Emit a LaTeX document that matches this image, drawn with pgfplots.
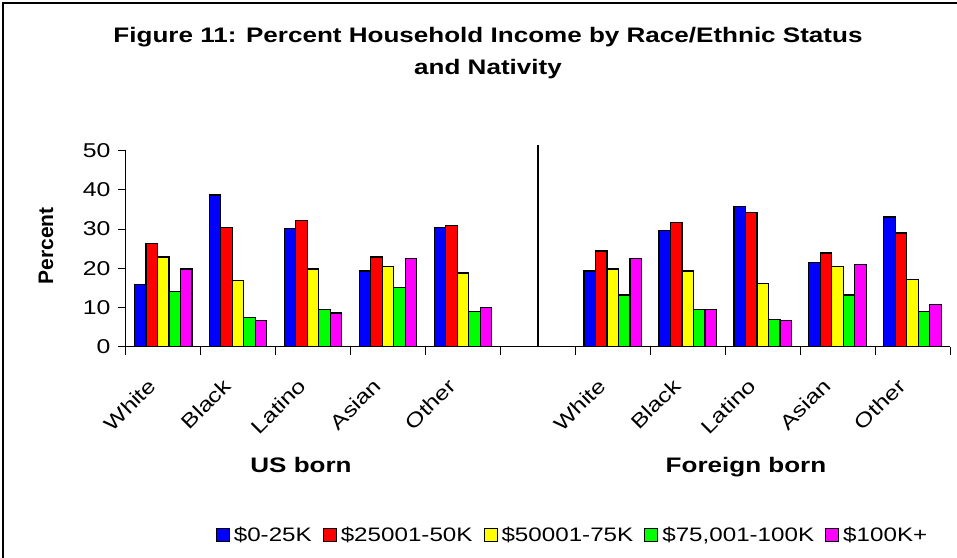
\documentclass[border=0pt]{standalone}
\usepackage{pgfplots}
\pgfplotsset{compat=1.18}
\usepackage{pgfplotstable}
\usepackage{fontspec}
\setmainfont{Liberation Sans}[FakeStretch=1.24]
\newfontfamily\plainsans{Liberation Sans}
\definecolor{cBlue}{RGB}{0,0,255}
\definecolor{cRed}{RGB}{255,0,0}
\definecolor{cYellow}{RGB}{255,255,0}
\definecolor{cGreen}{RGB}{0,255,0}
\definecolor{cMagenta}{RGB}{255,0,255}

% x: 0-4 US born, 6-10 Foreign born
\pgfplotstableread{
x  a    b    c    d    e
0  15.8 26.4 22.9 14.1 19.8
1  38.7 30.5 16.8 7.5  6.6
2  30.1 32.1 19.8 9.5  8.6
3  19.3 22.9 20.4 15.2 22.4
4  30.5 31.0 18.8 9.0  10.1
6  19.3 24.4 19.8 13.2 22.4
7  29.6 31.6 19.3 9.5  9.5
8  35.7 34.2 16.2 7.0  6.6
9  21.4 23.9 20.4 13.2 20.9
10 33.1 29.0 17.2 9.0  10.7
}\incomedata

\begin{document}
\begin{tikzpicture}
\useasboundingbox (0,0) rectangle (957bp,558bp);
\draw[line width=1.5bp] (3bp,0) -- (3bp,555bp) -- (957bp,555bp);
\node[anchor=base, font=\fontsize{21bp}{25bp}\selectfont\bfseries] at (488bp,515bp) {Figure 11: Percent Household Income by Race/Ethnic Status};
\node[anchor=base, font=\fontsize{21bp}{25bp}\selectfont\bfseries] at (488bp,483bp) {and Nativity};
\begin{axis}[
  at={(125.7bp,211.3bp)}, anchor=south west,
  scale only axis, width=824.3bp, height=196bp,
  xmin=-0.5, xmax=10.5, ymin=0, ymax=50,
  axis lines*=left, axis line style={-, line width=0.8bp},
  clip=false,
  ybar=0pt, bar width=11.5bp,
  tick align=outside, major tick length=8bp, minor tick length=8bp,
  ytick={0,10,20,30,40,50},
  xtick={0,1,2,3,4,6,7,8,9,10},
  xticklabels={White,Black,Latino,Asian,Other,White,Black,Latino,Asian,Other},
  minor xtick={-0.5,0.5,...,10.5},
  major x tick style={draw=none},
  minor x tick style={black, line width=0.8bp},
  y tick style={black, line width=0.8bp},
  /pgf/number format/assume math mode=true,
  yticklabel style={font=\fontsize{20bp}{24bp}\selectfont, inner sep=0pt, xshift=-7bp},
  xticklabel style={font=\fontsize{20bp}{24bp}\selectfont, rotate=45, anchor=east, inner sep=0pt, xshift=-27bp, yshift=-12bp},
  ylabel={Percent},
  ylabel style={at={(axis description cs:-0.0967,0.515)}, anchor=center, font=\plainsans\fontsize{21bp}{25bp}\selectfont\bfseries},
  legend columns=5,
  legend style={at={(axis description cs:0.5433,-0.959)}, anchor=center, draw=none,
    font=\fontsize{19.5bp}{23bp}\selectfont,
    nodes={inner xsep=4bp, inner ysep=2bp},
    /tikz/every even column/.append style={column sep=7bp}},
  legend image code/.code={\draw[#1, draw=black, line width=1bp] (0bp,-6.5bp) rectangle (13bp,6.5bp);},
  every axis plot/.append style={draw=black, line width=1.2bp},
]
\addplot[fill=cBlue] table[x=x, y=a] {\incomedata};
\addplot[fill=cRed] table[x=x, y=b] {\incomedata};
\addplot[fill=cYellow] table[x=x, y=c] {\incomedata};
\addplot[fill=cGreen] table[x=x, y=d] {\incomedata};
\addplot[fill=cMagenta] table[x=x, y=e] {\incomedata};
\legend{\$0-25K,\$25001-50K,\$50001-75K,{\$75,001-100K},\$100K+}
\draw[line width=1.3bp] (axis cs:5,0) -- (axis cs:5,51.5);
\node[anchor=base, font=\fontsize{21bp}{25bp}\selectfont\bfseries] at (axis description cs:0.2127,-0.643) {US born};
\node[anchor=base, font=\fontsize{21bp}{25bp}\selectfont\bfseries] at (axis description cs:0.7525,-0.643) {Foreign born};
\end{axis}
\end{tikzpicture}
\end{document}
